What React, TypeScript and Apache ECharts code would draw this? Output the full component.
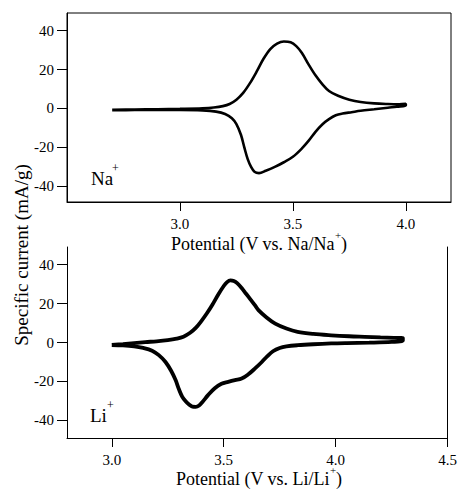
import React, { useEffect, useRef } from "react";
import * as echarts from "echarts";

// Na+ cell: cyclic voltammogram (scan 2.7 V -> 4.0 V -> 2.7 V)
const NA_POTENTIAL = [
  2.70, 2.80, 2.90, 3.00, 3.10, 3.15, 3.19, 3.22, 3.25, 3.28, 3.31, 3.34, 3.37, 3.40, 3.43, 3.46, 3.49, 3.515, 3.54, 3.57,
  3.60, 3.63, 3.66, 3.70, 3.75, 3.80, 3.86, 3.92, 3.97, 4.00,
  4.00, 3.96, 3.92, 3.86, 3.80, 3.76, 3.72, 3.69, 3.66, 3.63, 3.60, 3.57, 3.54, 3.50, 3.46, 3.42, 3.38, 3.35, 3.33, 3.315,
  3.30, 3.285, 3.27, 3.25, 3.23, 3.20, 3.16, 3.10, 3.00, 2.90, 2.80, 2.70,
];
const NA_CURRENT = [
  -0.7, -0.5, -0.4, -0.2, 0.1, 0.5, 1.2, 2.3, 4.5, 8.0, 13, 19, 25.5, 30.5, 33.3, 34.4, 34.0, 32, 28.5, 22.5,
  17, 12.5, 9, 6.5, 4.5, 3.3, 2.6, 2.3, 2.2, 2.4,
  1.5, 0.9, 0.4, -0.4, -1.2, -1.9, -2.6, -3.5, -5.5, -8.2, -12, -16.5, -20.5, -24.8, -27.6, -30, -32, -33.2, -32.5, -30,
  -26, -20, -13.5, -8, -5, -2.8, -1.6, -1.0, -0.8, -0.8, -0.8, -0.9,
];

// Li+ cell: cyclic voltammogram (scan 3.0 V -> 4.3 V -> 3.0 V)
const LI_POTENTIAL = [
  3.00, 3.05, 3.10, 3.15, 3.20, 3.25, 3.29, 3.32, 3.35, 3.375, 3.40, 3.425, 3.45, 3.475, 3.50, 3.515, 3.53, 3.545, 3.56, 3.58,
  3.60, 3.62, 3.64, 3.655, 3.69, 3.73, 3.78, 3.83, 3.90, 3.98, 4.06, 4.13, 4.20, 4.26, 4.30,
  4.30, 4.25, 4.15, 4.05, 3.98, 3.90, 3.83, 3.78, 3.75, 3.72, 3.695, 3.67, 3.64, 3.61, 3.58, 3.55, 3.52, 3.49, 3.46, 3.43,
  3.405, 3.39, 3.375, 3.36, 3.345, 3.33, 3.315, 3.30, 3.285, 3.265, 3.24, 3.21, 3.18, 3.14, 3.10, 3.05, 3.00,
];
const LI_CURRENT = [
  -1.2, -0.8, -0.3, 0.2, 0.6, 1.2, 2.0, 3.0, 5.0, 7.5, 11, 15, 19.5, 24.5, 29, 31, 31.9, 31.6, 30.5, 28,
  25, 22, 19, 16.6, 13, 9.7, 7.2, 5.5, 4.4, 3.7, 3.2, 2.9, 2.6, 2.4, 2.3,
  1.0, 0.3, -0.1, -0.3, -0.5, -0.9, -1.4, -2.0, -2.8, -4.5, -7.0, -10, -13.3, -16.3, -18.5, -19.3, -20.2, -21.2, -23.5, -27,
  -30.5, -32.3, -33, -32.9, -31.8, -30.2, -27.9, -24, -19.3, -14.5, -10, -6.5, -4.2, -2.8, -2.0, -1.5, -1.3,
];

const NA_X_TICKS = [3.0, 3.5, 4.0];
const LI_X_TICKS = [3.0, 3.5, 4.0, 4.5];
const Y_TICKS = [-40, -20, 0, 20, 40];

const FONT = "Liberation Serif";

const tickRich = { t: { fontFamily: FONT, fontSize: 15, color: "#000" } };

function xAxisCfg(gridIndex: number, min: number, max: number, ticks: number[]) {
  return {
    type: "value",
    gridIndex,
    min,
    max,
    position: "bottom",
    axisLine: { show: true, onZero: false, lineStyle: { color: "#000", width: 1 } },
    axisTick: { show: true, length: 9, customValues: ticks, lineStyle: { color: "#000", width: 1 } },
    axisLabel: {
      customValues: ticks,
      formatter: (v: number) => `{t|${v.toFixed(1)}}`,
      rich: tickRich,
      fontFamily: FONT,
      fontSize: 15,
      color: "#000",
      margin: 14,
    },
    splitLine: { show: false },
  };
}

function yAxisCfg(gridIndex: number, min: number, max: number) {
  return {
    type: "value",
    gridIndex,
    min,
    max,
    position: "left",
    axisLine: { show: true, onZero: false, lineStyle: { color: "#000", width: 1 } },
    axisTick: { show: true, length: 10, customValues: Y_TICKS, lineStyle: { color: "#000", width: 1 } },
    axisLabel: {
      customValues: Y_TICKS,
      formatter: (v: number) => `{t|${v}}`,
      rich: tickRich,
      fontFamily: FONT,
      fontSize: 15,
      color: "#000",
      margin: 13,
    },
    splitLine: { show: false },
  };
}

function measure(text: string, size: number) {
  const c = document.createElement("canvas").getContext("2d");
  if (!c) return text.length * size * 0.45;
  c.font = `${size}px "${FONT}"`;
  return c.measureText(text).width;
}

// Title with a superscript "+" built from three text pieces
function titleParts(cx: number, cy: number, before: string, after: string) {
  const size = 18;
  const supSize = 11;
  const w1 = measure(before, size);
  const w2 = measure("+", supSize);
  const w3 = measure(after, size);
  const x0 = cx - (w1 + w2 + w3) / 2;
  const base = { fontFamily: FONT, fill: "#000", align: "left", verticalAlign: "middle" };
  return [
    { type: "text", x: x0, y: cy, style: { ...base, text: before, fontSize: size } },
    { type: "text", x: x0 + w1, y: cy - 9, style: { ...base, text: "+", fontSize: supSize } },
    { type: "text", x: x0 + w1 + w2, y: cy, style: { ...base, text: after, fontSize: size } },
  ];
}

export default function App() {
  const ref = useRef<HTMLDivElement>(null);
  useEffect(() => {
    if (!ref.current) return;
    const chart = echarts.init(ref.current, null, { renderer: "svg" });
    chart.setOption({
      animation: false,
      backgroundColor: "#fff",
      textStyle: { fontFamily: FONT, color: "#000" },
      grid: [
        { left: 67, top: 13, width: 384, height: 189, show: true, borderColor: "#000", borderWidth: 1, backgroundColor: "transparent" },
        { left: 67, top: 247, width: 383, height: 191 },
      ],
      xAxis: [xAxisCfg(0, 2.5, 4.2, NA_X_TICKS), xAxisCfg(1, 2.8, 4.5, LI_X_TICKS)],
      yAxis: [
        yAxisCfg(0, -48, 49),
        yAxisCfg(1, -49, 49),
        {
          type: "value",
          gridIndex: 1,
          position: "right",
          axisLine: { show: true, lineStyle: { color: "#000", width: 1 } },
          axisTick: { show: false },
          axisLabel: { show: false },
          splitLine: { show: false },
        },
      ],
      series: [
        {
          type: "line",
          xAxisIndex: 0,
          yAxisIndex: 0,
          data: NA_POTENTIAL.map((v, i) => [v, NA_CURRENT[i]]),
          showSymbol: false,
          smooth: 0.35,
          lineStyle: { color: "#000", width: 2.6 },
        },
        {
          type: "line",
          xAxisIndex: 1,
          yAxisIndex: 1,
          data: LI_POTENTIAL.map((v, i) => [v, LI_CURRENT[i]]),
          showSymbol: false,
          smooth: 0.35,
          lineStyle: { color: "#000", width: 3.8 },
        },
      ],
      graphic: [
        ...titleParts(259, 244, "Potential (V vs. Na/Na", ")"),
        ...titleParts(259, 479, "Potential (V vs. Li/Li", ")"),
        {
          type: "text",
          x: 21,
          y: 255,
          rotation: Math.PI / 2,
          style: {
            text: "Specific current (mA/g)",
            fontFamily: FONT,
            fontSize: 19,
            fill: "#000",
            align: "center",
            verticalAlign: "middle",
          },
        },
        {
          type: "text",
          x: 91,
          y: 188,
          style: { text: "Na", fontFamily: FONT, fontSize: 19, fill: "#000", align: "left", verticalAlign: "bottom" },
        },
        {
          type: "text",
          x: 112,
          y: 174,
          style: { text: "+", fontFamily: FONT, fontSize: 12, fill: "#000", align: "left", verticalAlign: "bottom" },
        },
        {
          type: "text",
          x: 90,
          y: 425,
          style: { text: "Li", fontFamily: FONT, fontSize: 19, fill: "#000", align: "left", verticalAlign: "bottom" },
        },
        {
          type: "text",
          x: 107,
          y: 411,
          style: { text: "+", fontFamily: FONT, fontSize: 12, fill: "#000", align: "left", verticalAlign: "bottom" },
        },
      ],
    });
    return () => chart.dispose();
  }, []);
  return <div ref={ref} style={{ position: "absolute", left: 0, top: 0, width: 460, height: 490 }} />;
}
